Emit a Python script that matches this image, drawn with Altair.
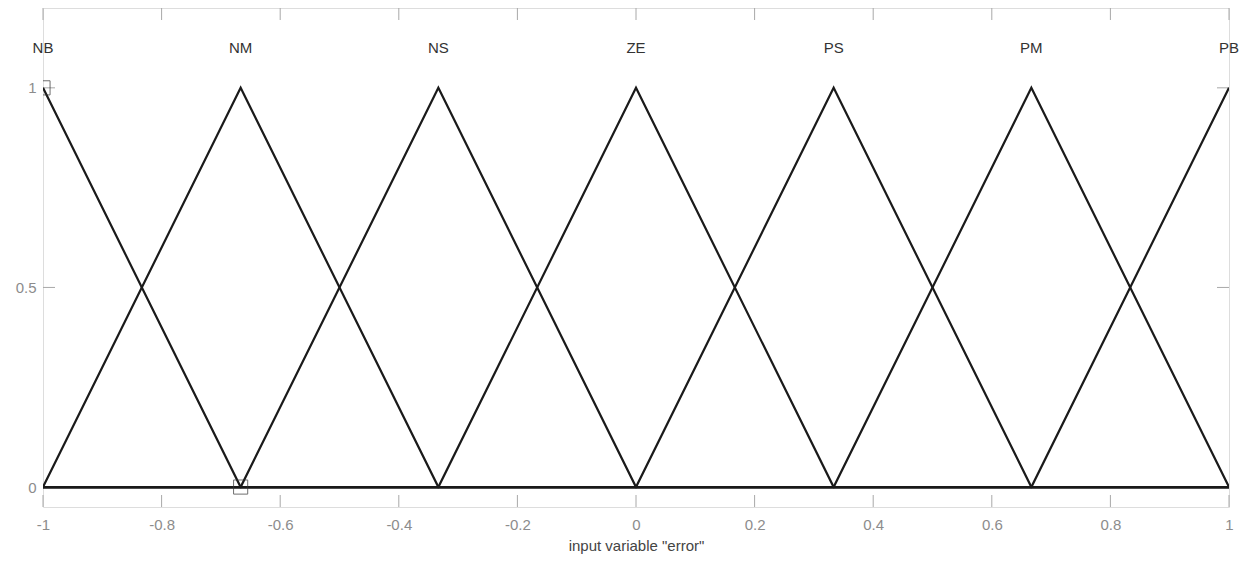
import altair as alt
import pandas as pd

# Membership functions (vertices)
mf_names = ["NB", "NM", "NS", "ZE", "PS", "PM", "PB"]
mf_x = [
    [-1.0, -0.6667, 1.0],
    [-1.0, -0.6667, -0.3333, 1.0],
    [-1.0, -0.6667, -0.3333, 0.0, 1.0],
    [-1.0, -0.3333, 0.0, 0.3333, 1.0],
    [-1.0, 0.0, 0.3333, 0.6667, 1.0],
    [-1.0, 0.3333, 0.6667, 1.0],
    [-1.0, 0.6667, 1.0],
]
mf_y = [
    [1, 0, 0],
    [0, 1, 0, 0],
    [0, 0, 1, 0, 0],
    [0, 0, 1, 0, 0],
    [0, 0, 1, 0, 0],
    [0, 0, 1, 0],
    [0, 0, 1],
]

peaks = [-1.0, -0.6667, -0.3333, 0.0, 0.3333, 0.6667, 1.0]
label_y = 1.1

marker_x = [-1.0, -0.6667]
marker_y = [1.0, 0.0]

x_ticks = [-1, -0.8, -0.6, -0.4, -0.2, 0, 0.2, 0.4, 0.6, 0.8, 1]
y_ticks = [0, 0.5, 1]

W, H = 1186, 499
GRAY = "#a8a8a8"
LABEL = "#8c8c8c"

rows = []
for n, xs_, ys_ in zip(mf_names, mf_x, mf_y):
    for i, (xv, yv) in enumerate(zip(xs_, ys_)):
        rows.append({"mf": n, "x": xv, "y": yv, "o": i})
lines_df = pd.DataFrame(rows)
labels_df = pd.DataFrame({"mf": mf_names, "x": peaks, "y": [label_y] * len(peaks)})
markers_df = pd.DataFrame({"x": marker_x, "y": marker_y})
xt_df = pd.DataFrame({"v": x_ticks})
yt_df = pd.DataFrame({"v": y_ticks})

xs = alt.Scale(domain=[-1, 1], nice=False, zero=False)
ys = alt.Scale(domain=[-0.05, 1.2], nice=False, zero=False)

xaxis = alt.Axis(values=x_ticks, ticks=False, domain=False, grid=False,
                 labelExpr="'' + datum.value",
                 labelColor=LABEL, labelFontSize=15, labelPadding=10,
                 labelFont="Liberation Sans", title='input variable "error"',
                 titleFont="Liberation Sans", titleFontSize=15,
                 titleFontWeight="normal", titleColor="#444444", titlePadding=6,
                 labelFlush=False)
yaxis = alt.Axis(values=y_ticks, ticks=False, domain=False, grid=False,
                 labelExpr="'' + datum.value",
                 labelColor=LABEL, labelFontSize=15, labelPadding=7,
                 labelFont="Liberation Sans", title=None)

lines = alt.Chart(lines_df).mark_line(color="#1a1a1a", strokeWidth=2.2, clip=True).encode(
    x=alt.X("x:Q", scale=xs, axis=xaxis),
    y=alt.Y("y:Q", scale=ys, axis=yaxis),
    detail="mf:N",
    order="o:Q",
)

labels = alt.Chart(labels_df).mark_text(
    font="Liberation Sans", fontSize=15, color="#333333", align="center", baseline="middle"
).encode(x=alt.X("x:Q", scale=xs), y=alt.Y("y:Q", scale=ys), text="mf:N")

markers = alt.Chart(markers_df).mark_point(
    shape="square", size=200, filled=False, color="#333333", strokeWidth=1, clip=True
).encode(x=alt.X("x:Q", scale=xs), y=alt.Y("y:Q", scale=ys))

tick_b = alt.Chart(xt_df).mark_rule(color=GRAY, strokeWidth=1).encode(
    x=alt.X("v:Q", scale=xs), y=alt.value(H), y2=alt.value(H - 12))
tick_t = alt.Chart(xt_df).mark_rule(color=GRAY, strokeWidth=1).encode(
    x=alt.X("v:Q", scale=xs), y=alt.value(0), y2=alt.value(12))
tick_l = alt.Chart(yt_df).mark_rule(color=GRAY, strokeWidth=1).encode(
    y=alt.Y("v:Q", scale=ys), x=alt.value(0), x2=alt.value(12))
tick_r = alt.Chart(yt_df).mark_rule(color=GRAY, strokeWidth=1).encode(
    y=alt.Y("v:Q", scale=ys), x=alt.value(W - 12), x2=alt.value(W))

chart = alt.layer(tick_b, tick_t, tick_l, tick_r, lines, markers, labels).properties(
    width=W, height=H,
    autosize=alt.AutoSizeParams(type="none"),
    padding={"left": 35, "top": 0, "right": 17, "bottom": 48},
).configure_view(stroke=GRAY, strokeWidth=1.5).configure(background="white")

chart.save("out.html", embed_options={"renderer": "svg", "actions": False})
